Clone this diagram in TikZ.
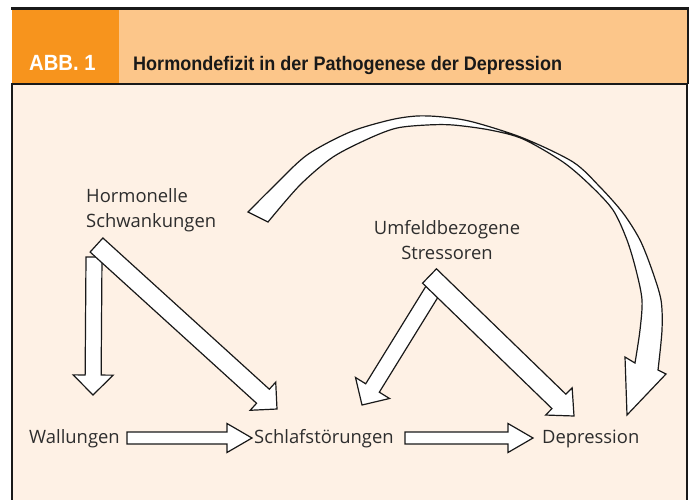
\documentclass[tikz,border=0pt]{standalone}
\usepackage{fontspec}
\setmainfont{Open Sans}
\newfontfamily\headfont{Liberation Sans}[FakeStretch=0.92]
\usetikzlibrary{calc,positioning}
\definecolor{abborange}{RGB}{247,148,29}
\definecolor{headorange}{RGB}{252,198,138}
\definecolor{bodycream}{RGB}{254,241,229}
\definecolor{labelgray}{RGB}{45,45,45}
% hollow block arrow: tail, tip, shaft half width, head half width, head length
\newcommand{\hollowarrow}[5]{%
	\filldraw[arrowbody] let \p1=($(#2)-(#1)$), \n1={atan2(\y1,\x1)} in
	($(#1)+(\n1+90:#3)$) -- ($(#2)+(\n1+180:#5)+(\n1+90:#3)$)
	-- ($(#2)+(\n1+180:#5)+(\n1+90:#4)$) -- (#2)
	-- ($(#2)+(\n1+180:#5)+(\n1-90:#4)$) -- ($(#2)+(\n1+180:#5)+(\n1-90:#3)$)
	-- ($(#1)+(\n1-90:#3)$) -- cycle;}
\tikzset{
	arrowbody/.style={
		fill=white, draw=black!90, line width=1.2pt, line join=miter
	},
	%
	boxtext/.style={
		text=labelgray, inner sep=0pt, font=\fontsize{18.4}{24.5}\selectfont
	},
	%
	headtext/.style={
		inner sep=0pt, text=black!90, font=\headfont\bfseries\fontsize{19.6}{20}\selectfont
	}
}
\begin{document}
\begin{tikzpicture}[x=1pt,y=-1pt]
\useasboundingbox (0,0) rectangle (693,499);
\clip (0,0) rectangle (693,499);
%frame
\fill[white] (0,0) rectangle (693,499);
\fill[bodycream] (12,84) rectangle (687,510);
\fill[headorange] (12,9) rectangle (687,84);
\fill[abborange] (12,9) rectangle (119,84);
\draw[black!90, line width=1.2pt] (12,510) -- (12,84) -- (687,84) -- (687,510);
\draw[black!90, line width=2.5pt] (11,8.5) -- (689,8.5);
\draw[black!90, line width=2.5pt] (688,8) -- (688,84);

%title
\node (abb)[headtext, text=white, anchor=base west, font=\headfont\bfseries\fontsize{22}{22}\selectfont] at (29,70) {ABB. 1};
\node (title)[headtext, anchor=base west] at (133,70) {Hormondefizit in der Pathogenese der Depression};

%labels
\node (hormon)[boxtext, align=left, anchor=base west] at (86,227) {Hormonelle\\Schwankungen};
\node (umfeld)[boxtext, align=center, anchor=base] at (447,259) {Umfeldbezogene\\Stressoren};
\node (wall)[boxtext, anchor=base west] at (29,443) {Wallungen};
\node (schlaf)[boxtext, anchor=base west] at (254,443) {Schlafstörungen};
\node (depr)[boxtext, anchor=base west] at (542,443) {Depression};

%arrow ends
\coordinate (hw-tail) at (94,257);
\coordinate (hw-tip) at (93,395);
\coordinate (hs-tail) at (96.5,245);
\coordinate (hs-tip) at (277,409);
\coordinate (us-tail) at (433,290);
\coordinate (us-tip) at (362,405);
\coordinate (ud-tail) at (429.5,276);
\coordinate (ud-tip) at (574,416);
\coordinate (ws-tail) at (127,438);
\coordinate (ws-tip) at (252,438);
\coordinate (sd-tail) at (405,438);
\coordinate (sd-tip) at (533,438);
\coordinate (hd-tail) at (248,212);
\coordinate (hd-tip) at (627,415);

%arrows
\hollowarrow{hw-tail}{hw-tip}{8pt}{20pt}{20pt}
\hollowarrow{hs-tail}{hs-tip}{9.5pt}{19pt}{19pt}
\hollowarrow{us-tail}{us-tip}{8pt}{20pt}{20pt}
\hollowarrow{ud-tail}{ud-tip}{10pt}{19pt}{21pt}
\hollowarrow{ws-tail}{ws-tip}{6pt}{14.5pt}{25pt}
\hollowarrow{sd-tail}{sd-tip}{6pt}{14.5pt}{25pt}

%long arc from Hormonelle Schwankungen to Depression
\filldraw[arrowbody] (hd-tail)
	-- plot[smooth] coordinates {(248,212) (273,187) (307,155) (350,132) (390,120) (417,116) (443,117) (473,122) (523,138) (573,162) (600,187) (623,213) (640,240) (652,270) (661,300) (662,330) (658,370)}
	-- (666,374) -- (hd-tip) -- (625,357) -- (635,363)
	-- plot[smooth] coordinates {(635,363) (640,330) (642,300) (636,270) (627,240) (613,210) (590,185) (563,162) (523,139) (490,130) (453,125) (427,125) (397,128) (370,138) (333,157) (300,185) (268,222)}
	-- cycle;
\end{tikzpicture}
\end{document}
